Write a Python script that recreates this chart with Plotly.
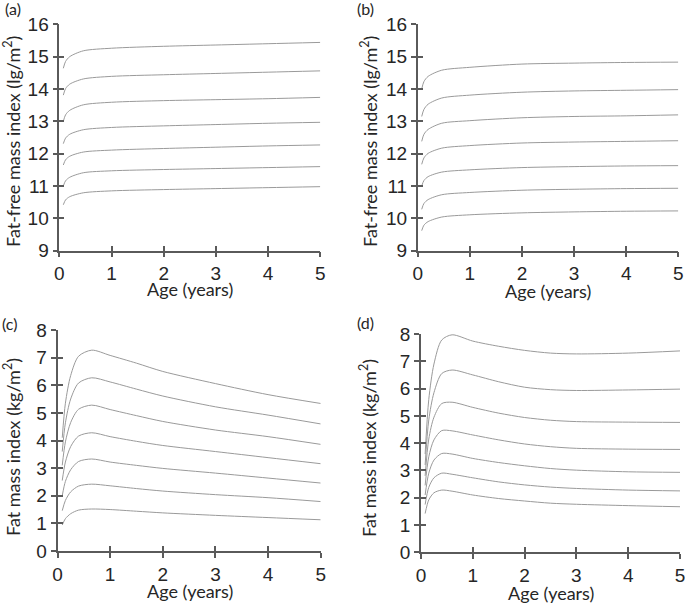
import plotly.graph_objects as go

# ---------------- data ----------------
ages_ab = [0.077, 0.12, 0.2, 0.46, 1, 2, 3, 4, 5]

ffmi_a = [
    [14.64, 14.85, 15.00, 15.18, 15.26, 15.32, 15.36, 15.40, 15.44],
    [13.81, 14.01, 14.15, 14.31, 14.39, 14.44, 14.48, 14.52, 14.56],
    [13.00, 13.20, 13.34, 13.51, 13.59, 13.64, 13.67, 13.70, 13.74],
    [12.31, 12.48, 12.60, 12.74, 12.81, 12.86, 12.90, 12.94, 12.97],
    [11.65, 11.81, 11.92, 12.05, 12.11, 12.16, 12.20, 12.24, 12.27],
    [11.00, 11.16, 11.27, 11.41, 11.47, 11.51, 11.54, 11.57, 11.60],
    [10.42, 10.57, 10.67, 10.79, 10.85, 10.89, 10.92, 10.95, 10.98],
]

ffmi_b = [
    [14.00, 14.23, 14.39, 14.58, 14.67, 14.77, 14.80, 14.82, 14.83],
    [13.15, 13.37, 13.53, 13.72, 13.81, 13.90, 13.94, 13.96, 13.98],
    [12.38, 12.60, 12.75, 12.94, 13.02, 13.11, 13.15, 13.17, 13.20],
    [11.67, 11.87, 12.01, 12.17, 12.25, 12.33, 12.36, 12.38, 12.40],
    [11.00, 11.17, 11.29, 11.43, 11.50, 11.57, 11.60, 11.62, 11.63],
    [10.28, 10.46, 10.58, 10.73, 10.80, 10.87, 10.90, 10.92, 10.93],
    [9.62, 9.79, 9.90, 10.04, 10.11, 10.17, 10.20, 10.22, 10.23],
]

ages_c = [0.09, 0.15, 0.25, 0.4, 0.65, 1, 1.5, 2, 3, 4, 5]
fmi_c = [
    [4.10, 5.35, 6.35, 7.05, 7.27, 7.08, 6.80, 6.50, 6.06, 5.66, 5.34],
    [3.60, 4.64, 5.50, 6.08, 6.27, 6.12, 5.86, 5.61, 5.22, 4.92, 4.60],
    [3.10, 3.95, 4.65, 5.13, 5.28, 5.12, 4.90, 4.69, 4.38, 4.14, 3.86],
    [2.55, 3.22, 3.78, 4.16, 4.28, 4.14, 3.97, 3.82, 3.60, 3.38, 3.16],
    [2.00, 2.52, 2.94, 3.24, 3.33, 3.22, 3.10, 2.99, 2.82, 2.64, 2.46],
    [1.46, 1.83, 2.14, 2.35, 2.42, 2.36, 2.26, 2.17, 2.04, 1.93, 1.79],
    [0.94, 1.17, 1.35, 1.48, 1.52, 1.50, 1.44, 1.38, 1.29, 1.21, 1.13],
]

ages_d = [0.08, 0.15, 0.25, 0.4, 0.6, 1, 1.5, 2, 2.5, 3, 4, 5]
fmi_d = [
    [3.60, 5.60, 6.90, 7.78, 7.97, 7.74, 7.55, 7.40, 7.30, 7.27, 7.30, 7.38],
    [3.20, 4.85, 5.85, 6.55, 6.68, 6.50, 6.25, 6.05, 5.96, 5.93, 5.95, 5.98],
    [2.80, 4.15, 4.95, 5.45, 5.50, 5.31, 5.10, 4.94, 4.84, 4.79, 4.77, 4.76],
    [2.45, 3.50, 4.12, 4.46, 4.45, 4.30, 4.12, 3.97, 3.87, 3.81, 3.78, 3.77],
    [2.10, 2.90, 3.38, 3.62, 3.60, 3.44, 3.29, 3.17, 3.07, 3.01, 2.95, 2.93],
    [1.75, 2.38, 2.73, 2.90, 2.86, 2.73, 2.58, 2.47, 2.39, 2.34, 2.28, 2.25],
    [1.42, 1.92, 2.18, 2.28, 2.24, 2.10, 1.97, 1.88, 1.80, 1.76, 1.71, 1.67],
]

panel_labels = ["(a)", "(b)", "(c)", "(d)"]
x_title = "Age (years)"
y_titles = ["Fat-free mass index (lg/m<sup>2</sup>)", "Fat-free mass index (lg/m<sup>2</sup>)",
            "Fat mass index (kg/m<sup>2</sup>)", "Fat mass index (kg/m<sup>2</sup>)"]
x_ticks = [0, 1, 2, 3, 4, 5]
y_ticks_ab = [9, 10, 11, 12, 13, 14, 15, 16]
y_ticks_cd = [0, 1, 2, 3, 4, 5, 6, 7, 8]

# ---------------- layout geometry ----------------
W, H = 685, 603
LINE = "#9a9a9a"
AX = "#5a5a5a"
TICKFONT = dict(family="Liberation Sans, Arial, sans-serif", size=19, color="#262626")
TITLEFONT = dict(family="Lato, Liberation Sans, sans-serif", size=18, color="#262626")

# pixel boxes: (left, right, top, bottom)
boxes = [(59.3, 320.3, 24.3, 250.7), (417.7, 678.3, 24.3, 250.7),
         (57.5, 320.7, 330.0, 551.0), (421.0, 680.0, 334.0, 552.3)]

panels = [
    (ages_ab, ffmi_a, [9, 16], y_ticks_ab),
    (ages_ab, ffmi_b, [9, 16], y_ticks_ab),
    (ages_c, fmi_c, [0, 8], y_ticks_cd),
    (ages_d, fmi_d, [0, 8], y_ticks_cd),
]

fig = go.Figure()
layout = dict(width=W, height=H, margin=dict(l=0, r=0, t=0, b=0, autoexpand=False),
              paper_bgcolor="white", plot_bgcolor="white", showlegend=False)

annotations = []
for i, ((ages, series, yr, yt), (l, r, t, b)) in enumerate(zip(panels, boxes)):
    n = i + 1
    xs = "" if n == 1 else str(n)
    xd = [l / W, r / W]
    yd = [1 - b / H, 1 - t / H]
    for s in series:
        fig.add_trace(go.Scatter(x=ages, y=s, mode="lines",
                                 line=dict(color=LINE, width=1, shape="spline", smoothing=0.8),
                                 xaxis="x" + xs, yaxis="y" + xs, hoverinfo="skip"))
    common = dict(showgrid=False, zeroline=False, showline=True, linecolor=AX, linewidth=1.5,
                  ticks="outside", ticklen=5, tickwidth=1.5, tickcolor=AX, tickfont=TICKFONT,
                  automargin=False, ticklabeloverflow="allow")
    layout["xaxis" + xs] = dict(domain=xd, range=[0, 5], tickvals=x_ticks, anchor="y" + xs, **common)
    layout["yaxis" + xs] = dict(domain=yd, range=yr, tickvals=yt, anchor="x" + xs, **common)
    # overlay axes giving the inward half of the crossing ticks
    ox, oy = str(n + 4), str(n + 4)
    inner = dict(showgrid=False, zeroline=False, showline=False, ticks="inside", ticklen=5,
                 tickwidth=1.5, tickcolor=AX, showticklabels=False, automargin=False)
    layout["xaxis" + ox] = dict(domain=xd, range=[0, 5], tickvals=x_ticks, overlaying="x" + xs,
                                anchor="y" + xs, **inner)
    layout["yaxis" + oy] = dict(domain=yd, range=yr, tickvals=yt, overlaying="y" + xs,
                                anchor="x" + xs, **inner)
    fig.add_trace(go.Scatter(x=[], y=[], xaxis="x" + ox, yaxis="y" + xs, hoverinfo="skip"))
    fig.add_trace(go.Scatter(x=[], y=[], xaxis="x" + xs, yaxis="y" + oy, hoverinfo="skip"))

# text positions in pixels
lab_pos = [(13, 8), (366, 8), (9, 323), (366, 322)]
ytitle_pos = [(12, 142), (369, 142), (12, 447), (368, 448)]
xtitle_pos = [(190, 289), (548, 291), (190, 591), (551, 593)]
for i in range(4):
    x, y = lab_pos[i]
    annotations.append(dict(text=panel_labels[i], x=x / W, y=1 - y / H, xref="paper", yref="paper",
                            showarrow=False, xanchor="center", yanchor="middle",
                            font=dict(family="Lato, Liberation Sans, sans-serif", size=16, color="#262626")))
    x, y = ytitle_pos[i]
    annotations.append(dict(text=y_titles[i], x=x / W, y=1 - y / H, xref="paper", yref="paper",
                            showarrow=False, xanchor="center", yanchor="middle", textangle=-90,
                            font=TITLEFONT))
    x, y = xtitle_pos[i]
    annotations.append(dict(text=x_title, x=x / W, y=1 - y / H, xref="paper", yref="paper",
                            showarrow=False, xanchor="center", yanchor="middle", font=TITLEFONT))

layout["annotations"] = annotations
fig.update_layout(**layout)
fig.write_html("out.html", config={"displayModeBar": False},
               post_script="document.body.style.margin='0px';")
